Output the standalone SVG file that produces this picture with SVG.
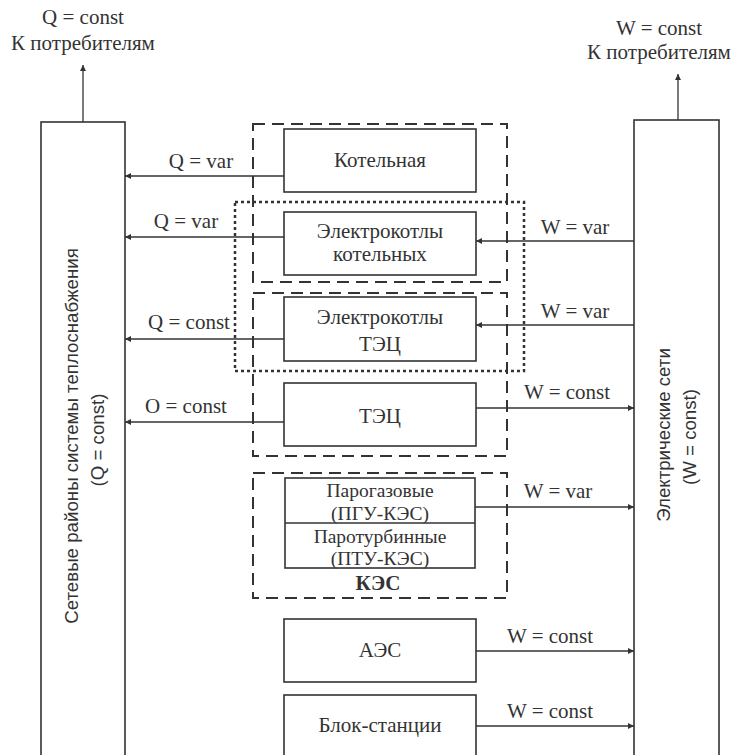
<svg xmlns="http://www.w3.org/2000/svg" width="733" height="755" viewBox="0 0 733 755">
<defs>
<style>
.box{fill:#fff;stroke:#333;stroke-width:1.6}
.dash{fill:none;stroke:#333;stroke-width:2;stroke-dasharray:12 7}
.dot{fill:none;stroke:#333;stroke-width:2.5;stroke-dasharray:3 3}
.ln{fill:none;stroke:#333;stroke-width:1.3}
.t{font-family:'Liberation Serif','DejaVu Serif',serif;font-size:21px;fill:#333;text-anchor:middle}
.ts{font-family:'Liberation Serif','DejaVu Serif',serif;font-size:19.5px;fill:#333;text-anchor:middle}
.tr{font-family:'Liberation Sans','DejaVu Sans',sans-serif;font-size:18.7px;fill:#333;text-anchor:middle}
.b{font-weight:bold}
</style>
<marker id="ah" viewBox="0 0 10 10" refX="10" refY="5" markerWidth="8" markerHeight="6" markerUnits="userSpaceOnUse" orient="auto">
<path d="M0,0 L10,5 L0,10 z" fill="#333"/>
</marker>
</defs>
<rect width="733" height="755" fill="#fff"/>

<g id="top-left-label">
<text class="t" x="83" y="24">Q = const</text>
<text class="t" x="83" y="50">К потребителям</text>
</g>
<g id="top-right-label">
<text class="t" x="659" y="35">W = const</text>
<text class="t" x="659" y="59">К потребителям</text>
</g>

<g id="heat-networks">
<rect class="box" x="41" y="122" width="84" height="640"/>
<text class="tr" transform="translate(78,436) rotate(-90)">Сетевые районы системы теплоснабжения</text>
<text class="tr" transform="translate(104,440) rotate(-90)">(Q = const)</text>
</g>

<g id="electric-networks">
<rect class="box" x="634" y="120" width="85" height="642"/>
<text class="tr" transform="translate(670,435) rotate(-90)">Электрические сети</text>
<text class="tr" transform="translate(696,437) rotate(-90)">(W = const)</text>
</g>

<g id="group-boiler-dash">
<rect class="dash" x="253" y="124" width="254" height="158"/>
</g>
<g id="group-chp-dash">
<rect class="dash" x="253" y="293" width="254" height="163"/>
</g>
<g id="group-kes-dash">
<rect class="dash" x="253" y="473" width="254" height="125"/>
<text class="t b" x="378" y="590">КЭС</text>
</g>
<g id="group-electroboilers-dot">
<rect class="dot" x="235" y="202" width="289" height="169"/>
</g>

<g id="kotelnaya">
<rect class="box" x="284" y="129" width="192" height="63"/>
<text class="t" x="380" y="167">Котельная</text>
</g>
<g id="electrokotly-kotelnyh">
<rect class="box" x="284" y="212" width="192" height="63"/>
<text class="t" x="380" y="238">Электрокотлы</text>
<text class="t" x="380" y="261">котельных</text>
</g>
<g id="electrokotly-tec">
<rect class="box" x="284" y="297" width="192" height="64"/>
<text class="t" x="380" y="324">Электрокотлы</text>
<text class="t" x="380" y="351">ТЭЦ</text>
</g>
<g id="tec">
<rect class="box" x="284" y="383" width="192" height="63"/>
<text class="t" x="380" y="423">ТЭЦ</text>
</g>
<g id="kes-units">
<rect class="box" x="285" y="478" width="190" height="90"/>
<line class="ln" x1="285" y1="523" x2="475" y2="523" style="stroke-width:1.6"/>
<text class="ts" x="380" y="497">Парогазовые</text>
<text class="ts" x="380" y="520">(ПГУ-КЭС)</text>
<text class="ts" x="380" y="543">Паротурбинные</text>
<text class="ts" x="380" y="565">(ПТУ-КЭС)</text>
</g>
<g id="aes">
<rect class="box" x="284" y="619" width="192" height="63"/>
<text class="t" x="380" y="657">АЭС</text>
</g>
<g id="blok-stancii">
<rect class="box" x="284" y="695" width="192" height="70"/>
<text class="t" x="380" y="732">Блок-станции</text>
</g>

<g id="connectors">
<line class="ln" x1="83" y1="122" x2="83" y2="65" marker-end="url(#ah)"/>
<line class="ln" x1="678" y1="120" x2="678" y2="74" marker-end="url(#ah)"/>

<line class="ln" x1="284" y1="176" x2="125" y2="176" marker-end="url(#ah)"/>
<line class="ln" x1="284" y1="237" x2="125" y2="237" marker-end="url(#ah)"/>
<line class="ln" x1="284" y1="339" x2="125" y2="339" marker-end="url(#ah)"/>
<line class="ln" x1="284" y1="422" x2="125" y2="422" marker-end="url(#ah)"/>

<line class="ln" x1="634" y1="241" x2="476" y2="241" marker-end="url(#ah)"/>
<line class="ln" x1="634" y1="325" x2="476" y2="325" marker-end="url(#ah)"/>
<line class="ln" x1="476" y1="408" x2="634" y2="408" marker-end="url(#ah)"/>
<line class="ln" x1="475" y1="507" x2="634" y2="507" marker-end="url(#ah)"/>
<line class="ln" x1="476" y1="651" x2="634" y2="651" marker-end="url(#ah)"/>
<line class="ln" x1="476" y1="726" x2="634" y2="726" marker-end="url(#ah)"/>

<text class="t" x="201" y="168">Q = var</text>
<text class="t" x="186" y="228">Q = var</text>
<text class="t" x="189" y="329">Q = const</text>
<text class="t" x="186" y="413">O = const</text>

<text class="t" x="575" y="234">W = var</text>
<text class="t" x="575" y="318">W = var</text>
<text class="t" x="567" y="399">W = const</text>
<text class="t" x="558" y="498">W = var</text>
<text class="t" x="550" y="643">W = const</text>
<text class="t" x="550" y="718">W = const</text>
</g>
</svg>
